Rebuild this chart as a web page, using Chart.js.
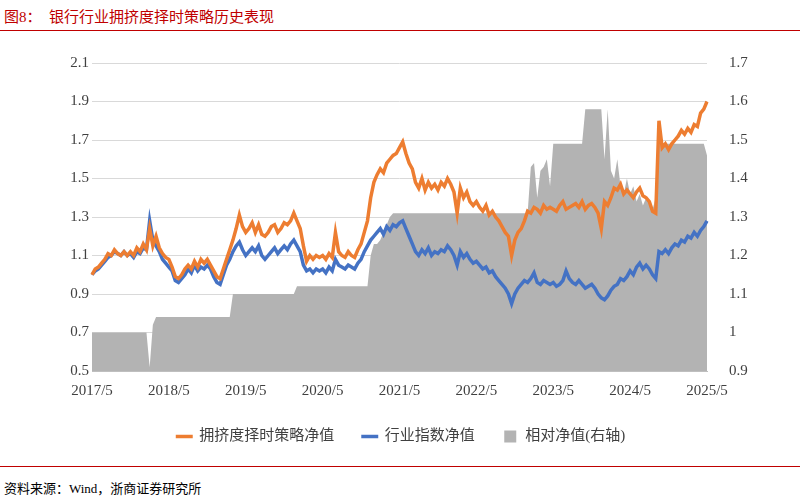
<!DOCTYPE html>
<html><head><meta charset="utf-8">
<script src="https://cdn.jsdelivr.net/npm/chart.js@4"></script>
<style>
body{margin:0;width:802px;height:500px;background:#fff;position:relative;overflow:hidden;font-family:"Liberation Serif","Noto Sans CJK SC",serif;}
#title{position:absolute;left:4px;top:5px;color:#c00000;font-size:15px;}
#l1{position:absolute;left:0;top:30px;width:800px;height:1px;background:#c00000;}
#l2{position:absolute;left:0;top:466px;width:800px;height:1px;background:#c00000;}
#src{position:absolute;left:4px;top:478px;font-size:13px;color:#000;}
#wrap{position:absolute;left:0;top:40px;width:802px;height:420px;}
</style></head><body>
<div id="title">图8：&nbsp;&nbsp;银行行业拥挤度择时策略历史表现</div>
<div id="l1"></div>
<div id="wrap"><canvas id="c" width="802" height="420"></canvas></div>
<div id="l2"></div>
<div id="src">资料来源：Wind，浙商证券研究所</div>
<script>
const startYear=2017, startMonth=5, nPoints=193;
const dates=[];
for(let i=0;i<nPoints;i++){const m=startMonth-1+Math.floor(i/2);dates.push((startYear+Math.floor(m/12))+'/'+(m%12+1));}
const industryNav=[
1.00,1.02,1.03,1.05,1.07,1.09,1.10,1.12,1.11,1.10,1.12,1.10,1.11,1.09,1.12,1.11,1.14,1.13,1.28,1.18,1.15,1.12,1.08,1.06,
1.04,1.02,0.97,0.96,0.98,1.00,1.03,1.01,1.05,1.02,1.04,1.03,1.05,1.03,0.99,0.96,0.95,1.00,1.05,1.08,1.12,1.15,1.17,1.13,
1.10,1.12,1.14,1.12,1.15,1.10,1.08,1.10,1.12,1.14,1.11,1.13,1.15,1.13,1.16,1.18,1.15,1.12,1.05,1.02,1.03,1.01,1.03,1.02,
1.03,1.01,1.04,1.02,1.08,1.05,1.04,1.03,1.05,1.04,1.03,1.06,1.08,1.12,1.15,1.18,1.20,1.22,1.24,1.21,1.25,1.23,1.26,1.25,
1.27,1.28,1.24,1.20,1.16,1.12,1.10,1.13,1.11,1.14,1.10,1.12,1.11,1.13,1.12,1.15,1.13,1.10,1.05,1.12,1.09,1.11,1.08,1.06,
1.07,1.05,1.03,1.04,1.01,1.02,0.99,0.97,0.95,0.93,0.90,0.85,0.90,0.93,0.95,0.97,0.96,0.98,1.01,0.96,0.95,0.97,0.96,0.95,
0.96,0.94,0.95,0.97,1.02,0.98,0.96,0.95,0.97,0.95,0.93,0.94,0.95,0.93,0.90,0.88,0.87,0.89,0.92,0.94,0.95,0.98,0.97,0.99,
1.02,1.00,1.04,1.06,1.03,1.05,1.03,1.00,0.98,1.12,1.11,1.13,1.11,1.14,1.16,1.15,1.18,1.17,1.20,1.19,1.22,1.20,1.23,1.25,
1.28];
const strategyNav=[
1.00,1.03,1.04,1.06,1.08,1.11,1.10,1.13,1.11,1.10,1.12,1.10,1.12,1.10,1.14,1.12,1.16,1.13,1.24,1.15,1.20,1.14,1.11,1.09,
1.08,1.04,0.99,0.98,1.00,1.03,1.05,1.03,1.07,1.04,1.08,1.06,1.08,1.05,1.02,0.99,0.98,1.03,1.08,1.13,1.18,1.24,1.31,1.25,
1.22,1.24,1.27,1.22,1.26,1.21,1.20,1.22,1.25,1.26,1.22,1.24,1.27,1.26,1.28,1.32,1.28,1.24,1.15,1.07,1.10,1.08,1.10,1.09,
1.10,1.08,1.11,1.09,1.22,1.12,1.10,1.09,1.12,1.10,1.09,1.13,1.16,1.22,1.28,1.40,1.48,1.52,1.55,1.53,1.58,1.60,1.62,1.63,
1.66,1.69,1.63,1.58,1.55,1.48,1.45,1.50,1.44,1.48,1.45,1.47,1.44,1.48,1.46,1.50,1.47,1.43,1.32,1.45,1.40,1.43,1.38,1.36,
1.38,1.35,1.33,1.36,1.31,1.33,1.30,1.28,1.25,1.22,1.20,1.10,1.18,1.22,1.24,1.28,1.33,1.32,1.35,1.34,1.32,1.36,1.34,1.35,
1.34,1.33,1.36,1.38,1.34,1.35,1.36,1.37,1.35,1.38,1.34,1.36,1.37,1.35,1.32,1.24,1.38,1.36,1.40,1.45,1.44,1.47,1.42,1.44,
1.42,1.40,1.43,1.45,1.41,1.40,1.38,1.33,1.32,1.80,1.66,1.68,1.65,1.68,1.70,1.72,1.75,1.73,1.76,1.74,1.78,1.77,1.84,1.86,
1.90];
const relativeNav=[
1.00,1.00,1.00,1.00,1.00,1.00,1.00,1.00,1.00,1.00,1.00,1.00,1.00,1.00,1.00,1.00,1.00,1.00,0.91,1.02,1.04,1.04,1.04,1.04,
1.04,1.04,1.04,1.04,1.04,1.04,1.04,1.04,1.04,1.04,1.04,1.04,1.04,1.04,1.04,1.04,1.04,1.04,1.04,1.04,1.10,1.10,1.10,1.10,
1.10,1.10,1.10,1.10,1.10,1.10,1.10,1.10,1.10,1.10,1.10,1.10,1.10,1.10,1.10,1.10,1.12,1.12,1.12,1.12,1.12,1.12,1.12,1.12,
1.12,1.12,1.12,1.12,1.12,1.12,1.12,1.12,1.12,1.12,1.12,1.12,1.12,1.12,1.12,1.20,1.23,1.23,1.24,1.26,1.28,1.30,1.31,1.31,
1.31,1.31,1.31,1.31,1.31,1.31,1.31,1.31,1.31,1.31,1.31,1.31,1.31,1.31,1.31,1.31,1.31,1.31,1.31,1.31,1.31,1.31,1.31,1.31,
1.31,1.31,1.31,1.31,1.31,1.31,1.31,1.31,1.31,1.31,1.31,1.31,1.31,1.31,1.31,1.31,1.31,1.43,1.44,1.35,1.42,1.43,1.45,1.38,
1.49,1.49,1.49,1.49,1.49,1.49,1.49,1.49,1.49,1.49,1.58,1.58,1.58,1.58,1.58,1.58,1.45,1.58,1.42,1.40,1.45,1.38,1.36,1.40,
1.36,1.38,1.34,1.36,1.33,1.35,1.34,1.32,1.35,1.49,1.49,1.49,1.49,1.49,1.49,1.49,1.49,1.49,1.49,1.49,1.49,1.49,1.49,1.49,
1.46];
const seriesNames=['相对净值(右轴)','行业指数净值','拥挤度择时策略净值'];
const F='"Liberation Serif","Noto Sans CJK SC",serif';
new Chart(document.getElementById('c'),{
 type:'line',
 data:{labels:dates,datasets:[
  {label:seriesNames[0],data:relativeNav,yAxisID:'y1',borderWidth:0,backgroundColor:'#b3b3b3',borderColor:'#b3b3b3',fill:'start',pointRadius:0,pointStyle:'rect',order:3,tension:0},
  {label:seriesNames[1],data:industryNav,yAxisID:'y',borderColor:'#4472c4',backgroundColor:'#4472c4',borderWidth:3.5,pointRadius:0,pointStyle:'line',order:2,fill:false},
  {label:seriesNames[2],data:strategyNav,yAxisID:'y',borderColor:'#ed7d31',backgroundColor:'#ed7d31',borderWidth:3.5,pointRadius:0,pointStyle:'line',order:1,fill:false}
 ]},
 options:{responsive:false,animation:false,devicePixelRatio:1,
  layout:{padding:{top:12,bottom:6}},
  plugins:{legend:{position:'bottom',labels:{usePointStyle:true,boxWidth:40,boxHeight:12,padding:28,color:'#404040',font:{family:F,size:15}}},tooltip:{enabled:false}},
  scales:{
   x:{grid:{display:false,drawTicks:true},border:{color:'#bfbfbf'},
      ticks:{autoSkip:false,maxRotation:0,color:'#404040',font:{family:F,size:15},callback:(v,i)=>i%24===0?dates[i]:null},
      afterFit:s=>{s.height=30;}},
   y:{position:'left',min:0.5,max:2.1,ticks:{stepSize:0.2,color:'#404040',font:{family:F,size:15},callback:v=>v.toFixed(1).replace(/\.0$/,'')},
      grid:{color:'#d9d9d9',drawTicks:false},border:{display:false},afterFit:s=>{s.width=92;}},
   y1:{position:'right',min:0.9,max:1.7,ticks:{stepSize:0.1,color:'#404040',font:{family:F,size:15},padding:14,callback:v=>Math.abs(v-1)<1e-9?'1':v.toFixed(1)},
      grid:{display:false},border:{display:false},afterFit:s=>{s.width=95;}}
  }}
});
</script>
</body></html>
